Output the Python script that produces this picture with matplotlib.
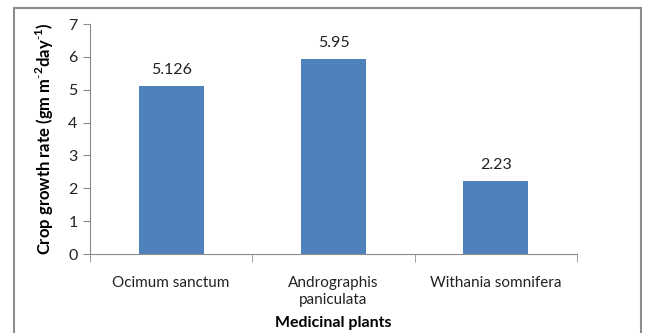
import numpy as np
from matplotlib import pyplot as plt
from matplotlib.patches import Rectangle

plt.rcParams['font.family'] = ['Lato', 'DejaVu Sans']
plt.rcParams['mathtext.fontset'] = 'custom'
plt.rcParams['mathtext.rm'] = 'Lato'
plt.rcParams['mathtext.bf'] = 'Lato:bold'

plants = ['Ocimum sanctum', 'Andrographis\npaniculata', 'Withania somnifera']
growth_rate = [5.126, 5.95, 2.23]
value_labels = ['5.126', '5.95', '2.23']

W, H = 646, 333
fig = plt.figure(figsize=(W/100., H/100.), dpi=100)
ax = fig.add_axes([90/W, (H-254)/H, (577-90)/W, (254-24)/H])

x = np.arange(len(plants))
ax.bar(x, growth_rate, width=0.4, color='#4F81BD')
for xi, v, lab in zip(x, growth_rate, value_labels):
    ax.annotate(lab, (xi, v), xytext=(0, 6), textcoords='offset points',
                ha='center', va='bottom', fontsize=11.5, color='#222222')

ax.set_xlim(-0.5, 2.5)
ax.set_ylim(0, 7)
ax.set_yticks(range(8))
ax.set_xticks(x)
ax.set_xticklabels(plants, fontsize=11, color='#222222', linespacing=1.25)
ax.set_xticks([-0.5, 0.5, 1.5, 2.5], minor=True)
ax.tick_params(axis='x', which='major', length=0, pad=16)
ax.tick_params(axis='x', which='minor', length=6, color='#8c8c8c', direction='out')
ax.tick_params(axis='y', length=5, color='#8c8c8c', labelsize=11.5, labelcolor='#222222', pad=4)
for s in ['top', 'right']:
    ax.spines[s].set_visible(False)
for s in ['left', 'bottom']:
    ax.spines[s].set_color('#8c8c8c')

ax.set_ylabel(r'Crop growth rate (gm m$^{\mathbf{\text{-}2}}$day$^{\mathbf{\text{-}1}}$)',
              fontsize=12, fontweight='bold', labelpad=9)
fig.text((90+577)/2/W, (H-323)/H, 'Medicinal plants', fontsize=11.5,
         fontweight='bold', ha='center', va='center')

# outer chart border
fig.patches.append(Rectangle((14/W, -0.05), (641-14)/W, (H-8)/H + 0.05,
                             transform=fig.transFigure, fill=False,
                             edgecolor='#8c8c8c', linewidth=1.5))

fig.savefig('out.png', dpi=100)
